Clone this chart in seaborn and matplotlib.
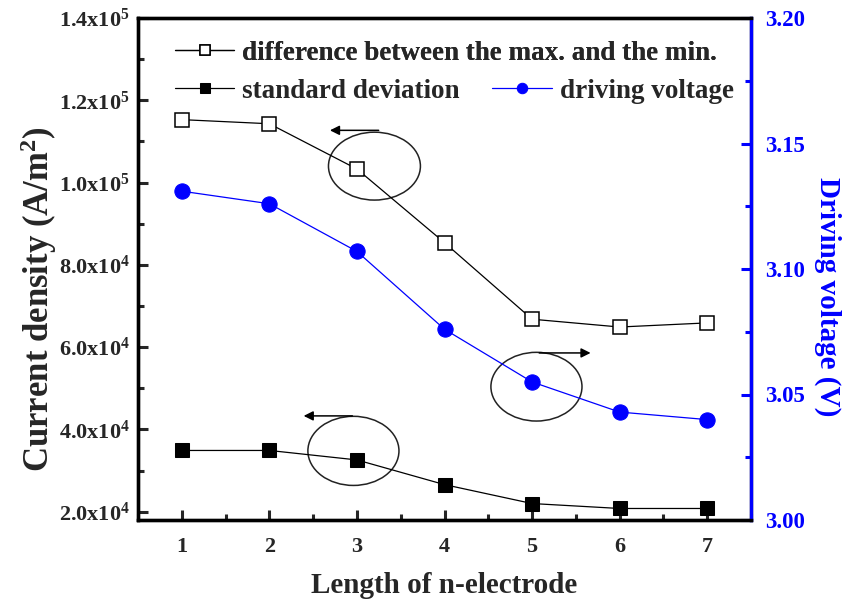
import matplotlib
matplotlib.use("Agg")
import matplotlib.pyplot as plt
from matplotlib.patches import Ellipse
from matplotlib.ticker import MultipleLocator, FixedLocator
import seaborn as sns

# ---- data ----
length = [1, 2, 3, 4, 5, 6, 7]
diff_max_min = [1.153e5, 1.143e5, 1.033e5, 8.54e4, 6.68e4, 6.49e4, 6.59e4]
std_dev = [3.49e4, 3.49e4, 3.26e4, 2.66e4, 2.20e4, 2.08e4, 2.08e4]
drive_v = [3.131, 3.126, 3.107, 3.076, 3.055, 3.043, 3.040]

left_ticks = [2.0e4, 4.0e4, 6.0e4, 8.0e4, 1.0e5, 1.2e5, 1.4e5]
left_tick_labels = [r"2.0x10$^4$", r"4.0x10$^4$", r"6.0x10$^4$", r"8.0x10$^4$",
                    r"1.0x10$^5$", r"1.2x10$^5$", r"1.4x10$^5$"]
right_ticks = [3.00, 3.05, 3.10, 3.15, 3.20]
right_tick_labels = ["3.00", "3.05", "3.10", "3.15", "3.20"]
legend_labels = ["difference between the max. and the min.",
                 "standard deviation", "driving voltage"]

sns.set_theme(style="ticks")
plt.rcParams["font.family"] = ["Liberation Serif", "DejaVu Serif"]
plt.rcParams["font.weight"] = "bold"
plt.rcParams["mathtext.fontset"] = "custom"
plt.rcParams["mathtext.rm"] = "Liberation Serif:bold"
plt.rcParams["mathtext.bf"] = "Liberation Serif:bold"
plt.rcParams["mathtext.it"] = "Liberation Serif:bold"
plt.rcParams["mathtext.default"] = "bf"

BLUE = "#0000ff"
fig = plt.figure(figsize=(8.42, 6.03), dpi=100)
ax = fig.add_axes([138 / 842, (603 - 520) / 603, (751 - 138) / 842, (520 - 18) / 603])
ax2 = ax.twinx()

sns.lineplot(x=length, y=diff_max_min, ax=ax, color="black", linewidth=0.9,
             marker="s", markersize=10, markerfacecolor="white",
             markeredgecolor="black", markeredgewidth=1.1, legend=False)
sns.lineplot(x=length, y=std_dev, ax=ax, color="black", linewidth=0.9,
             marker="s", markersize=10, markerfacecolor="black",
             markeredgecolor="black", legend=False)
sns.lineplot(x=length, y=drive_v, ax=ax2, color=BLUE, linewidth=0.9,
             marker="o", markersize=11, markerfacecolor=BLUE,
             markeredgecolor=BLUE, legend=False)

l_diff, l_std = ax.lines[0], ax.lines[1]
l_volt = ax2.lines[0]

ax.set_xlim(0.5, 7.5)
ax.set_ylim(1.8e4, 1.4e5)
ax2.set_ylim(3.0, 3.2)

ax.xaxis.set_major_locator(FixedLocator(length))
ax.xaxis.set_minor_locator(MultipleLocator(0.5))
ax.yaxis.set_major_locator(FixedLocator(left_ticks))
ax.set_yticklabels(left_tick_labels)
ax.yaxis.set_minor_locator(FixedLocator([3e4, 5e4, 7e4, 9e4, 1.1e5, 1.3e5]))
ax2.yaxis.set_major_locator(FixedLocator(right_ticks))
ax2.set_yticklabels(right_tick_labels)
ax2.yaxis.set_minor_locator(MultipleLocator(0.025))

for a in (ax, ax2):
    for s in a.spines.values():
        s.set_linewidth(2.4)
        s.set_color("black")
ax2.spines["right"].set_color(BLUE)

ax.tick_params(axis="both", which="major", direction="in", length=7, width=2.2,
               labelsize=16, pad=6, top=False, right=False)
ax.tick_params(axis="both", which="minor", direction="in", length=4, width=2.2,
               top=False, right=False)
ax.tick_params(axis="x", which="major", pad=12)
ax2.tick_params(axis="y", which="major", direction="in", length=7, width=2.2,
                labelsize=16.5, colors=BLUE, pad=10)
ax2.tick_params(axis="y", which="minor", direction="in", length=4, width=2.2,
                colors=BLUE)
for lab in ax.get_xticklabels() + ax.get_yticklabels() + ax2.get_yticklabels():
    lab.set_fontweight("bold")

ax.set_xlabel("Length of n-electrode", fontsize=21, fontweight="bold", labelpad=11)
ax.set_ylabel(r"Current density (A/m$^2$)", fontsize=25, fontweight="bold", labelpad=0)
ax2.set_ylabel("Driving voltage (V)", fontsize=21, fontweight="bold", color=BLUE,
               rotation=270, labelpad=26)
ax.yaxis.label.set_y(0.44)
ax2.yaxis.label.set_y(0.444)

# ellipses and arrows
ell_kw = dict(fill=False, edgecolor="#222222", linewidth=1.1)
ax.add_patch(Ellipse((3.2, 1.04e5), 1.05, 1.65e4, **ell_kw))
ax.add_patch(Ellipse((5.05, 5.04e4), 1.04, 1.67e4, **ell_kw))
ax.add_patch(Ellipse((2.96, 3.48e4), 1.04, 1.68e4, **ell_kw))
arr = dict(arrowstyle="-|>", color="black", lw=1.1, mutation_scale=14)
ax.annotate("", xy=(2.66, 1.127e5), xytext=(3.28, 1.127e5), arrowprops=arr)
ax.annotate("", xy=(5.70, 5.86e4), xytext=(5.05, 5.86e4), arrowprops=arr)
ax.annotate("", xy=(2.36, 4.33e4), xytext=(2.98, 4.33e4), arrowprops=arr)

# legends
leg_kw = dict(frameon=False, handlelength=2.2, handletextpad=0.3,
              borderaxespad=0, borderpad=0, prop={"weight": "bold", "size": 19.5})
leg1 = ax.legend([l_diff], legend_labels[:1], loc="center left",
                 bbox_to_anchor=(0.060, (520 - 53) / 502), **leg_kw)
ax.add_artist(leg1)
leg2 = ax2.legend([l_std, l_volt], legend_labels[1:], loc="center left",
                  bbox_to_anchor=(0.060, (520 - 91) / 502), ncol=2,
                  columnspacing=1.2, **leg_kw)
for lg in (leg1, leg2):
    for h in lg.legend_handles:
        h.set_markersize(7.5)

fig.savefig("out.png", dpi=100)
